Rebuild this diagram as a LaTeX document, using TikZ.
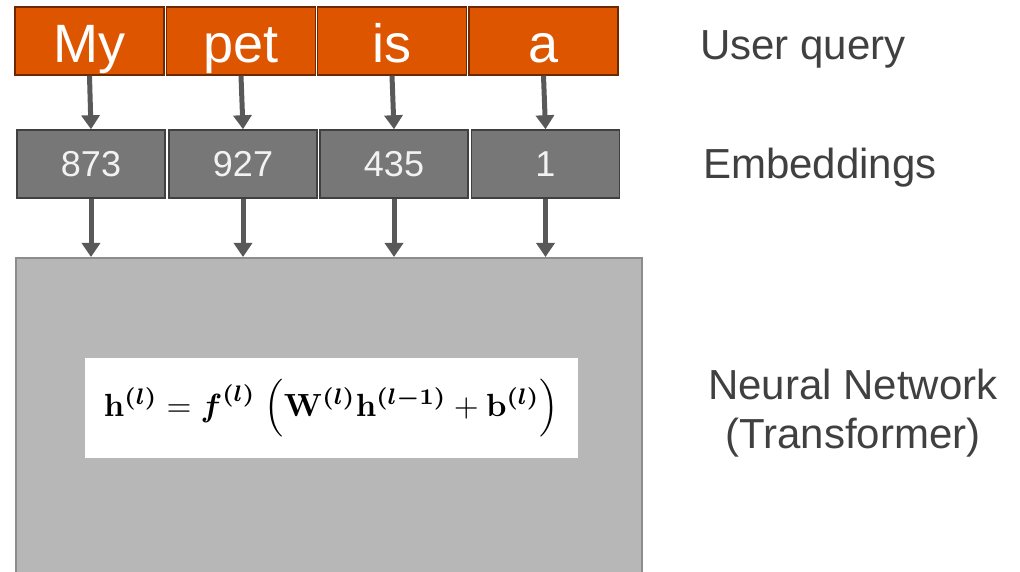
\documentclass[tikz,border=0pt]{standalone}
\usepackage{amsmath}
\usepackage{amsbsy}
\usepackage[no-math]{fontspec}
\setmainfont{Liberation Sans}
\usepackage{tikz}
\usetikzlibrary{positioning, arrows.meta}

\definecolor{tokorange}{RGB}{222,85,0}
\definecolor{tokedge}{RGB}{110,40,0}
\definecolor{embgray}{RGB}{119,119,119}
\definecolor{arrgray}{RGB}{89,89,89}
\definecolor{netgray}{RGB}{183,183,183}
\definecolor{labgray}{RGB}{64,64,64}

\newcommand{\lay}[1]{^{\boldsymbol{(#1)}}}

\begin{document}
\begin{tikzpicture}[x=1pt, y=-1pt,
    word/.style={draw=tokedge, line width=1.5pt, fill=tokorange, text=white,
        minimum width=149pt, minimum height=68pt, inner sep=0pt,
        font=\fontsize{54}{58}\selectfont, text height=44pt, text depth=0pt},
    emb/.style={draw=black!75, line width=1.5pt, fill=embgray, text=white!95!black,
        minimum width=148pt, minimum height=68pt, inner sep=0pt,
        font=\fontsize{36}{40}\selectfont, text height=26pt, text depth=0pt},
    arr/.style={draw=arrgray, line width=5pt, -{Triangle[width=18pt, length=14pt]}},
    lab/.style={text=labgray, font=\fontsize{42}{49}\selectfont, inner sep=0pt}]
    \useasboundingbox (0,0) rectangle (1020,572);

    % user query tokens
    \node[word] (w1) at (89.5,41) {My};
    \node[word] (w2) at (241,41) {pet};
    \node[word] (w3) at (392,41) {is};
    \node[word] (w4) at (543.5,41) {a};

    % token ids
    \node[emb] (e1) at (91,164) {873};
    \node[emb] (e2) at (243,164) {927};
    \node[emb] (e3) at (394,164) {435};
    \node[emb] (e4) at (545.5,164) {1};

    % network block
    \node[draw=black!45, line width=1.5pt, fill=netgray, anchor=north west,
        minimum width=626pt, minimum height=340pt] (nn) at (15,257) {};
    \node[fill=white, minimum width=493pt, minimum height=100pt, inner sep=0pt] (eq) at (331.5,408)
        {\resizebox{455pt}{!}{$\mathbf{h}\lay{l} = \boldsymbol{f}\lay{l}\;\Bigl(\mathbf{W}\lay{l}\mathbf{h}\lay{l-1} + \mathbf{b}\lay{l}\Bigr)$}};

    \foreach \i in {1,...,4} {
        \draw[arr] (w\i.south) -- (e\i.north);
        \draw[arr] (e\i.south) -- (e\i.south |- nn.north);
    }

    % labels on the right
    \node[lab, anchor=base west] (lq) at (700,60) {User query};
    \node[lab, anchor=base west] (le) at (703,179) {Embeddings};
    \node[lab, align=center] (ln) at (853,413) {Neural Network\\(Transformer)};
\end{tikzpicture}
\end{document}
